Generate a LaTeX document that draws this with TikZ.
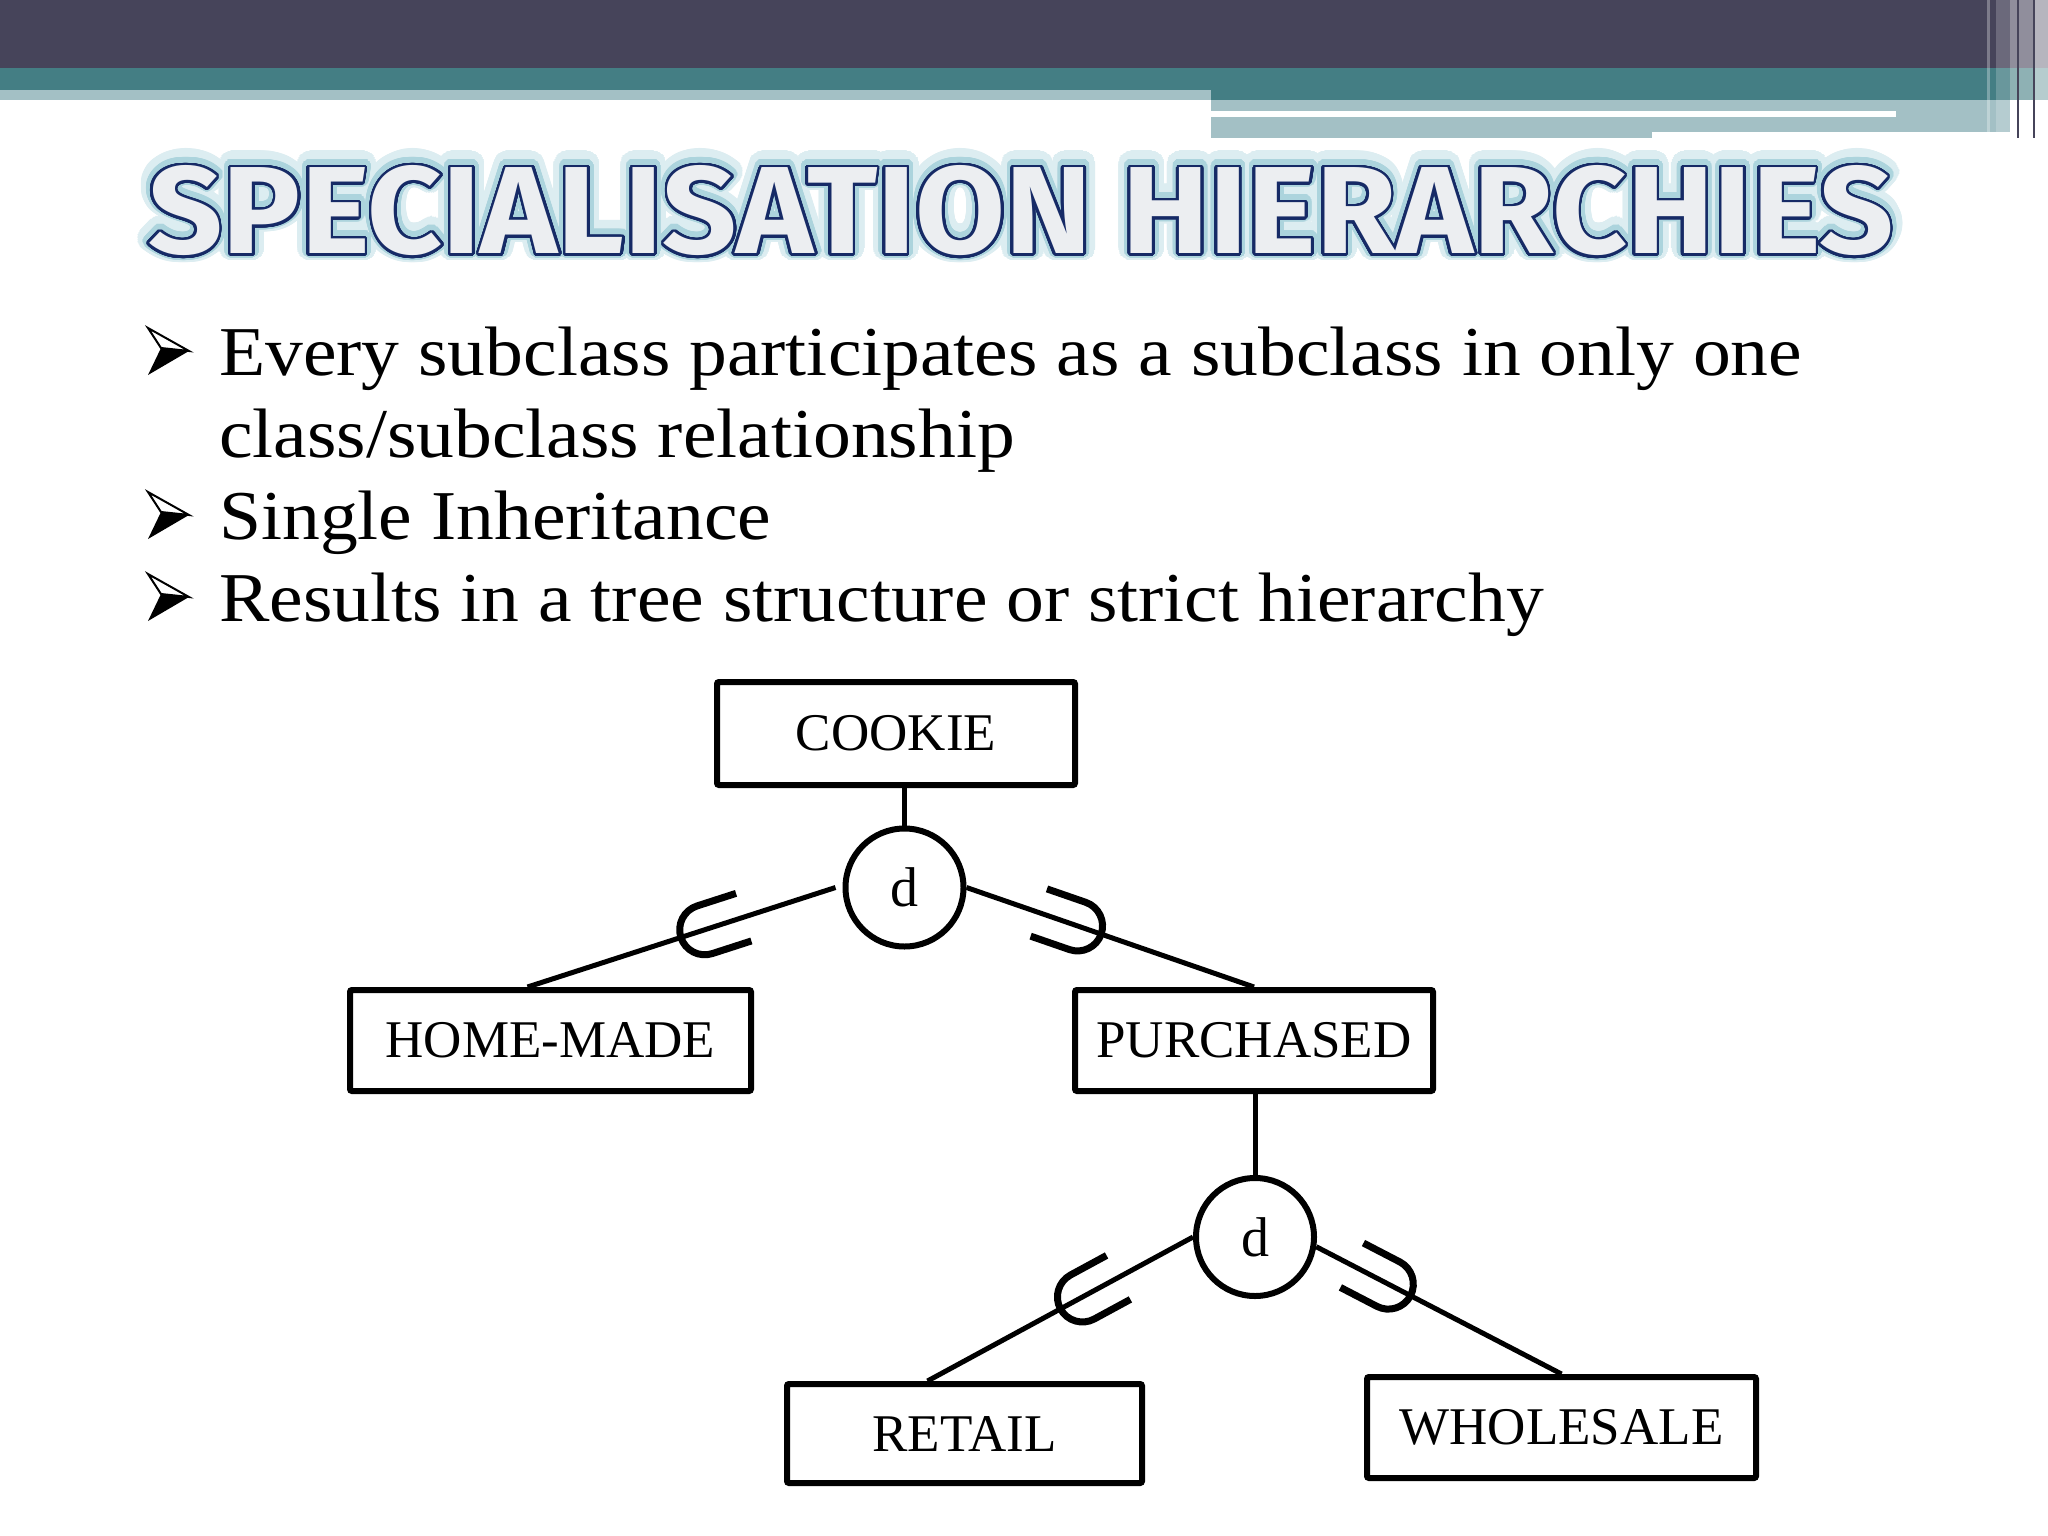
\documentclass[tikz,border=0pt]{standalone}
\usepackage{fontspec}
\usepackage[copies]{contour}
\usepackage{graphicx}
\usetikzlibrary{calc}
\setmainfont{Liberation Serif}
\newfontfamily\bodyfont[FakeStretch=1.08]{Liberation Serif}
\newfontfamily\titlefont{Fira Sans}
\definecolor{hdrdark}{RGB}{70,68,90}
\definecolor{hdrteal}{RGB}{68,126,132}
\definecolor{hdrlight}{RGB}{163,192,197}
\definecolor{titlefill}{RGB}{236,238,241}
\definecolor{titleline}{RGB}{22,42,102}
\definecolor{glowout}{RGB}{220,237,241}
\definecolor{glowin}{RGB}{172,212,221}
\newcommand\titletext{\resizebox{1744pt}{88pt}{\titlefont\bfseries SPECIALISATION HIERARCHIES}}
\newcommand\arrowbullet[1]{%
  \draw[line width=2pt, line join=miter, fill=white] (148,#1-47) -- (189,#1-24) -- (161,#1-27) -- cycle;
  \fill[black] (161,#1-27) -- (189,#1-24) -- (148,#1) -- cycle;}
\tikzset{
  entity/.style={draw, line width=6pt, rounded corners=2pt, inner sep=0pt,
    font=\fontsize{53}{60}\selectfont, minimum height=100pt},
  disc/.style={draw, circle, line width=6pt, minimum size=118pt, inner sep=0pt,
    font=\fontsize{56}{60}\selectfont},
  link/.style={line width=5pt},
  bodytext/.style={anchor=base west, inner sep=0pt, font=\bodyfont\fontsize{70}{80}\selectfont},
  pics/cupsym/.style={code={%
    \draw[line width=7pt] (-33,25) -- (8,25) .. controls (21.8,25) and (33,13.8) .. (33,0)
      .. controls (33,-13.8) and (21.8,-25) .. (8,-25) -- (-33,-25);}}
}
\begin{document}
\begin{tikzpicture}[x=1pt,y=-1pt]
\useasboundingbox (0,0) rectangle (2048,1536);
\fill[white] (0,0) rectangle (2048,1536);
% header
\fill[hdrdark] (0,0) rectangle (2048,68);
\fill[hdrteal] (0,68) rectangle (2048,100);
\fill[hdrlight] (0,90) rectangle (1211,100);
\fill[hdrlight] (1211,100) rectangle (2010,138);
\fill[white] (1211,111) rectangle (1896,117);
\fill[white] (1652,132) rectangle (2010,138);
\fill[white, opacity=.3] (1987,0) rectangle (1990,138);
\fill[white, opacity=.2] (1996,0) rectangle (2048,138);
\fill[white, opacity=.25] (2010,0) rectangle (2048,138);
\fill[white, opacity=.35] (2035,0) rectangle (2048,138);
\draw[hdrdark, line width=1.5pt] (2018,0) -- (2018,138);
\draw[hdrdark, line width=1.5pt] (2034,0) -- (2034,138);
% title
\node[inner sep=0pt] (titleglow) at (1021,212) {\contourlength{12pt}\color{glowout}\contour[40]{glowout}{\titletext}};
\node[inner sep=0pt] (titleglow2) at (1021,212) {\contourlength{6.5pt}\color{glowin}\contour[40]{glowin}{\titletext}};
\node[inner sep=0pt] (title) at (1021,212) {\contourlength{2.6pt}\color{titlefill}\contour[40]{titleline}{\titletext}};
% bullets
\arrowbullet{375}
\arrowbullet{539}
\arrowbullet{621}
\node[bodytext] (l1) at (219,375) {Every subclass participates as a subclass in only one};
\node[bodytext] (l2) at (219,457) {class/subclass relationship};
\node[bodytext] (l3) at (219,539) {Single Inheritance};
\node[bodytext] (l4) at (219,621) {Results in a tree structure or strict hierarchy};
% diagram
\node[entity, minimum width=358pt, minimum height=103pt] (cookie) at (896,733.5) {COOKIE};
\node[disc] (d1) at (904.5,887.5) {d};
\node[entity, minimum width=401pt, minimum height=101pt] (homemade) at (550.5,1040.5) {HOME-MADE};
\node[entity, minimum width=358pt, minimum height=101pt] (purchased) at (1254,1040.5) {PURCHASED};
\node[disc] (d2) at (1255,1237) {d};
\node[entity, minimum width=355pt, minimum height=99pt] (retail) at (964.5,1433.5) {RETAIL};
\node[entity, minimum width=389pt, minimum height=101pt] (wholesale) at (1561.5,1427.5) {WHOLESALE};
\draw[link] (cookie.south -| d1.north) -- (d1.north);
\draw[link] ($(d1.west)+(-7,0)$) -- ($(homemade.north)+(-23,0)$)
  pic[pos=0.40, sloped, allow upside down] {cupsym};
\draw[link] (d1.east) -- (purchased.north)
  pic[pos=0.36, sloped, allow upside down] {cupsym};
\draw[link] (purchased.south -| d2.north) -- (d2.north);
\draw[link] (d2.west) -- ($(retail.north)+(-37,0)$)
  pic[pos=0.39, sloped, allow upside down] {cupsym};
\draw[link] (d2.-9) -- (wholesale.north)
  pic[pos=0.265, sloped, allow upside down] {cupsym};
\end{tikzpicture}
\end{document}
